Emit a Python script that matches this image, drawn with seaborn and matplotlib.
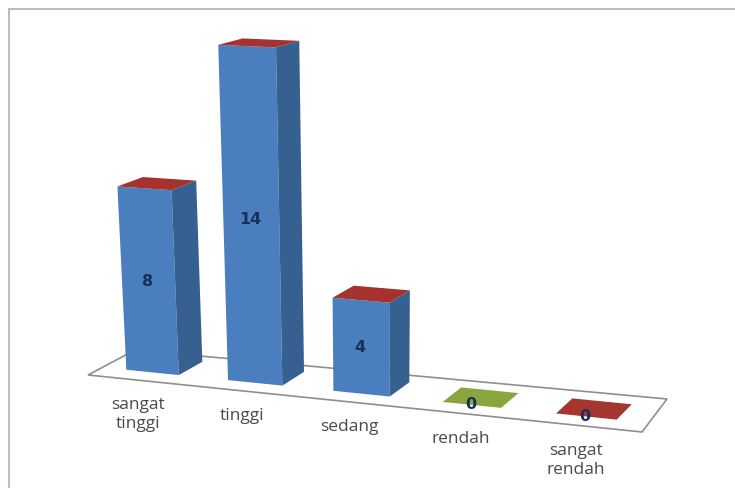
import numpy as np
import pandas as pd
import matplotlib
matplotlib.use("Agg")
import matplotlib.pyplot as plt
from matplotlib.patches import Polygon
from matplotlib.transforms import Affine2D, Transform
import seaborn as sns

categories = ["sangat\ntinggi", "tinggi", "sedang", "rendah", "sangat\nrendah"]
values = [8, 14, 4, 0, 0]
cap_colors = ["#A5322E", "#A5322E", "#A5322E", "#8AA53E", "#A5352F"]

BAR_WIDTH = 0.52
FRONT_COLOR = "#4A7EBF"
SIDE_COLOR = "#35608F"
FLOOR_X = [-0.497, 4.543, 4.5, -0.507]
FLOOR_DEPTH = [-0.571, -0.559, 1.539, 1.343]

# Camera of the pseudo-3D view: (x, value, depth) -> image pixels
CAMERA = np.array([
    [98.11907245, -1.62794772, 27.99455114, 152.44124407],
    [3.68185761, -23.82495947, -5.11740994, 372.40241712],
    [-0.01762983, -0.00430206, 0.02239568, 1.0],
])


def project(x, v, d):
    x = np.atleast_1d(np.asarray(x, float))
    pts = np.column_stack([x, np.broadcast_to(v, x.shape),
                           np.broadcast_to(d, x.shape), np.ones(x.shape)])
    out = pts @ CAMERA.T
    return out[:, :2] / out[:, 2:]


class PlaneAtDepth(Transform):
    """Maps (category position, value) on a plane of constant depth to pixels."""
    input_dims = output_dims = 2
    has_inverted = False

    def __init__(self, plane_depth):
        super().__init__()
        self.plane_depth = plane_depth

    def transform_non_affine(self, values):
        pts = np.asarray(values, float)
        return project(pts[:, 0], pts[:, 1], self.plane_depth)


sns.set_theme(style="white")
plt.rcParams["font.family"] = ["Open Sans", "DejaVu Sans"]

W, H = 735, 488
fig = plt.figure(figsize=(W / 100, H / 100), dpi=100, facecolor="white")
ax = fig.add_axes([9 / W, 0, (W - 9) / W, (H - 9) / H])

frame = pd.DataFrame({"kategori": categories, "jumlah": values})
sns.barplot(data=frame, x="kategori", y="jumlah", color=FRONT_COLOR, saturation=1,
            width=BAR_WIDTH, linewidth=0, ax=ax)
ax.set(xlabel="", ylabel="", xticks=[], yticks=[])
sns.despine(ax=ax, top=False, left=False, right=True, bottom=True)
for side in ("left", "top"):
    ax.spines[side].set_color("#BDBDBD")
    ax.spines[side].set_linewidth(1.5)

to_screen = Affine2D().scale(1, -1).translate(0, H)
front = PlaneAtDepth(0) + to_screen
for patch in ax.patches:
    patch.set_transform(front)
    patch.set_clip_on(False)
    patch.set_zorder(3)

ax.add_patch(Polygon(project(FLOOR_X, 0, FLOOR_DEPTH),
                     closed=True, facecolor="white", edgecolor="#8F8F8F", linewidth=1.2,
                     transform=to_screen, clip_on=False, zorder=1))

for i, (val, cap) in enumerate(zip(values, cap_colors)):
    left, right = i - BAR_WIDTH / 2, i + BAR_WIDTH / 2
    side_pts = project([right] * 4, [0, val, val, 0], [0, 0, 1, 1])
    top_pts = project([left, right, right, left], val, [0, 0, 1, 1])
    if val > 0:
        ax.add_patch(Polygon(side_pts, closed=True, facecolor=SIDE_COLOR, edgecolor="none",
                             transform=to_screen, clip_on=False, zorder=3))
    ax.add_patch(Polygon(top_pts, closed=True, facecolor=cap, edgecolor="none",
                         transform=to_screen, clip_on=False, zorder=3))
    ax.text(i - 0.01, val / 2, str(val), transform=front, ha="center", va="center",
            family="DejaVu Sans", fontsize=11.5, fontweight="bold", color="#16305A",
            zorder=5, clip_on=False)

label_plane = PlaneAtDepth(-0.6) + to_screen
for i, name in enumerate(categories):
    ax.text(i, -0.72, name, transform=label_plane, ha="center", va="top",
            fontsize=12.5, color="#4A4A4A", linespacing=1.25, clip_on=False, zorder=5)

fig.savefig("out.png", dpi=100, facecolor="white")
